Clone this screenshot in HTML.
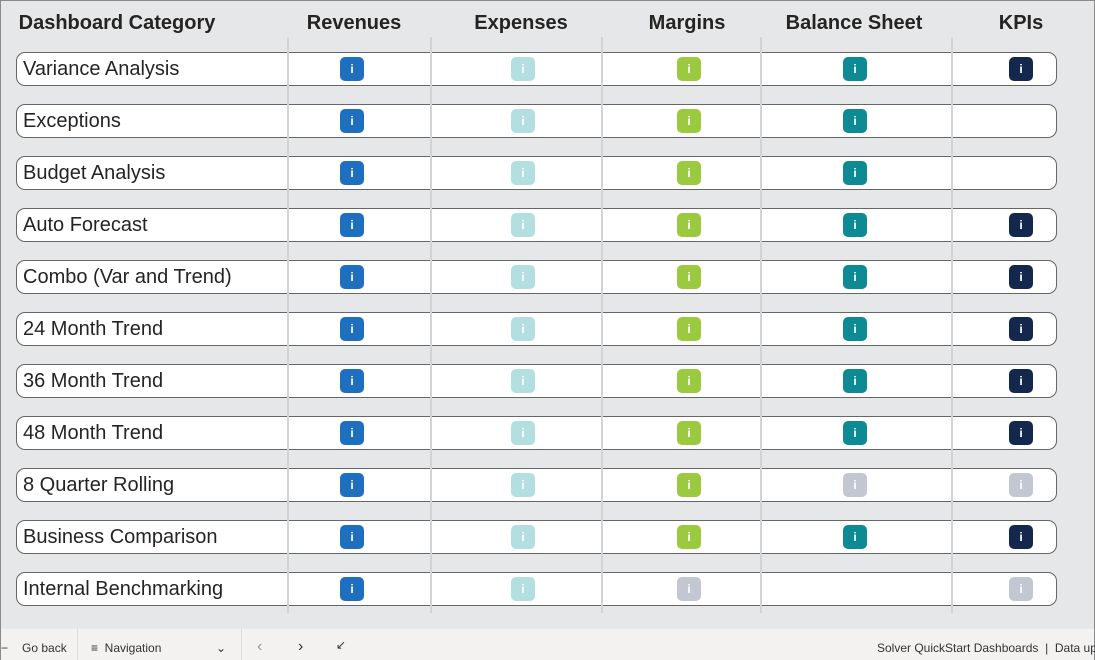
<!DOCTYPE html><html><head><meta charset="utf-8"><style>
body{margin:0;width:1095px;height:660px;overflow:hidden;background:#fff;font-family:"Liberation Sans","DejaVu Sans",sans-serif}
#f{position:absolute;left:0;top:0;width:1093px;height:658px;border:1px solid #8a8a8a;background:#e6e7e9}
.h{position:absolute;top:11px;font-weight:bold;font-size:20px;color:#252423;transform:translateX(-50%);white-space:nowrap}
.r{position:absolute;left:15px;width:1039px;height:32px;border:1px solid #666;border-radius:9px;background:#fff}
.r span{position:absolute;left:6px;top:5px;font-size:20px;color:#252423}
.v{position:absolute;top:36px;height:576px;width:2px;background:#d2d3d5}
.i{position:absolute;width:24px;height:24px;border-radius:5px;color:#fff;font-size:12px;font-weight:bold;text-align:center;line-height:24px}
.b{background:#1f6fbf}.e{background:#b4dfe0}.m{background:#9bc93f}.t{background:#0e8a94}.k{background:#13284c}.g{background:#c2c7d1}
#bar{position:absolute;left:0;top:628px;width:1093px;height:31px;background:#f3f2f1;font-size:12px;color:#333}
#bar div{position:absolute;top:12px;white-space:nowrap}
</style></head><body><div id="f">
<div class="h" style="left:116px">Dashboard Category</div>
<div class="h" style="left:353px">Revenues</div>
<div class="h" style="left:520px">Expenses</div>
<div class="h" style="left:686px">Margins</div>
<div class="h" style="left:853px">Balance Sheet</div>
<div class="h" style="left:1020px">KPIs</div>

<div class="r" style="top:51px"><span>Variance Analysis</span></div>
<div class="r" style="top:103px"><span>Exceptions</span></div>
<div class="r" style="top:155px"><span>Budget Analysis</span></div>
<div class="r" style="top:207px"><span>Auto Forecast</span></div>
<div class="r" style="top:259px"><span>Combo (Var and Trend)</span></div>
<div class="r" style="top:311px"><span>24 Month Trend</span></div>
<div class="r" style="top:363px"><span>36 Month Trend</span></div>
<div class="r" style="top:415px"><span>48 Month Trend</span></div>
<div class="r" style="top:467px"><span>8 Quarter Rolling</span></div>
<div class="r" style="top:519px"><span>Business Comparison</span></div>
<div class="r" style="top:571px"><span>Internal Benchmarking</span></div>

<div class="v" style="left:286px"></div><div class="v" style="left:429px"></div><div class="v" style="left:600px"></div><div class="v" style="left:759px"></div><div class="v" style="left:950px"></div>

<div class="i b" style="left:339px;top:56px">i</div><div class="i e" style="left:510px;top:56px">i</div><div class="i m" style="left:676px;top:56px">i</div><div class="i t" style="left:842px;top:56px">i</div><div class="i k" style="left:1008px;top:56px">i</div>
<div class="i b" style="left:339px;top:108px">i</div><div class="i e" style="left:510px;top:108px">i</div><div class="i m" style="left:676px;top:108px">i</div><div class="i t" style="left:842px;top:108px">i</div>
<div class="i b" style="left:339px;top:160px">i</div><div class="i e" style="left:510px;top:160px">i</div><div class="i m" style="left:676px;top:160px">i</div><div class="i t" style="left:842px;top:160px">i</div>
<div class="i b" style="left:339px;top:212px">i</div><div class="i e" style="left:510px;top:212px">i</div><div class="i m" style="left:676px;top:212px">i</div><div class="i t" style="left:842px;top:212px">i</div><div class="i k" style="left:1008px;top:212px">i</div>
<div class="i b" style="left:339px;top:264px">i</div><div class="i e" style="left:510px;top:264px">i</div><div class="i m" style="left:676px;top:264px">i</div><div class="i t" style="left:842px;top:264px">i</div><div class="i k" style="left:1008px;top:264px">i</div>
<div class="i b" style="left:339px;top:316px">i</div><div class="i e" style="left:510px;top:316px">i</div><div class="i m" style="left:676px;top:316px">i</div><div class="i t" style="left:842px;top:316px">i</div><div class="i k" style="left:1008px;top:316px">i</div>
<div class="i b" style="left:339px;top:368px">i</div><div class="i e" style="left:510px;top:368px">i</div><div class="i m" style="left:676px;top:368px">i</div><div class="i t" style="left:842px;top:368px">i</div><div class="i k" style="left:1008px;top:368px">i</div>
<div class="i b" style="left:339px;top:420px">i</div><div class="i e" style="left:510px;top:420px">i</div><div class="i m" style="left:676px;top:420px">i</div><div class="i t" style="left:842px;top:420px">i</div><div class="i k" style="left:1008px;top:420px">i</div>
<div class="i b" style="left:339px;top:472px">i</div><div class="i e" style="left:510px;top:472px">i</div><div class="i m" style="left:676px;top:472px">i</div><div class="i g" style="left:842px;top:472px">i</div><div class="i g" style="left:1008px;top:472px">i</div>
<div class="i b" style="left:339px;top:524px">i</div><div class="i e" style="left:510px;top:524px">i</div><div class="i m" style="left:676px;top:524px">i</div><div class="i t" style="left:842px;top:524px">i</div><div class="i k" style="left:1008px;top:524px">i</div>
<div class="i b" style="left:339px;top:576px">i</div><div class="i e" style="left:510px;top:576px">i</div><div class="i g" style="left:676px;top:576px">i</div><div class="i g" style="left:1008px;top:576px">i</div>

<div id="bar">
<div style="left:0">&minus;</div><div style="left:21px">Go back</div>
<div style="left:76px;top:0;width:1px;height:31px;background:#ddd"></div>
<div style="left:90px">&#8801;&nbsp; Navigation</div><div style="left:215px">&#8964;</div>
<div style="left:240px;top:0;width:1px;height:31px;background:#ddd"></div>
<div style="left:256px;top:9px;font-size:16px;color:#999">&#8249;</div><div style="left:297px;top:9px;font-size:16px">&#8250;</div><div style="left:335px;top:9px">&#8601;</div>
<div style="left:876px">Solver QuickStart Dashboards&nbsp; | &nbsp;Data upda</div>
</div>
</div></body></html>
